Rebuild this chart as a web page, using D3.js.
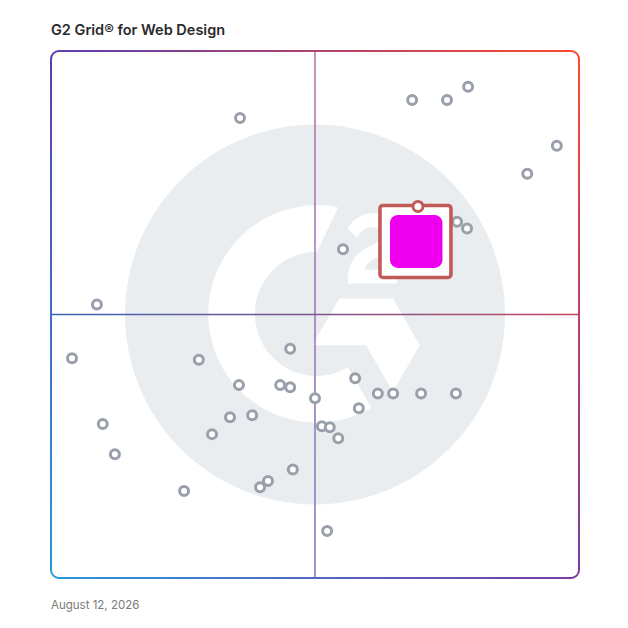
<!DOCTYPE html>
<html>
<head>
<meta charset="utf-8">
<script src="https://cdn.jsdelivr.net/npm/d3@7"></script>
<style>
  body { margin: 0; background: #fff; }
  svg { display: block; }
</style>
</head>
<body>
<div class="canvas"></div>
<script>
// product positions on the grid, 0-100 on both axes (x = market presence, y = satisfaction)
const productX = [68.4, 75.0, 79.0, 95.8, 90.2, 76.9, 78.8, 55.3, 35.8, 8.7,
  3.98, 28.0, 45.3, 35.6, 43.4, 45.3, 9.8, 33.9, 38.1, 30.5,
  12.1, 25.2, 39.6, 41.1, 45.8, 50.0, 57.6, 61.9, 64.8, 70.1,
  76.7, 58.3, 51.3, 52.8, 54.4, 52.3];
const productY = [90.7, 90.7, 93.2, 82.0, 76.7, 67.6, 66.3, 62.4, 87.3, 51.9,
  41.7, 41.4, 43.5, 36.6, 36.6, 36.2, 29.2, 30.5, 30.9, 27.3,
  23.5, 16.5, 17.2, 18.4, 20.6, 34.1, 37.9, 35.0, 35.0, 35.0,
  35.0, 32.2, 28.8, 28.6, 26.5, 8.9];

// highlighted product
const focusX = [69.5];
const focusY = [70.5];

const title = 'G2 Grid® for Web Design';
const dateLabel = 'August 12, 2026';

const dims = { width: 628, height: 628 };
const box = { x0: 51, y0: 51, x1: 579, y1: 578, r: 8 };

const svg = d3.select('.canvas')
  .append('svg')
  .attr('width', dims.width)
  .attr('height', dims.height);

const x = d3.scaleLinear().domain([0, 100]).range([box.x0, box.x1]);
const y = d3.scaleLinear().domain([0, 100]).range([box.y1, box.y0]);

const defs = svg.append('defs');
const grad = (id, x1, y1, x2, y2, c1, c2) => {
  const g = defs.append('linearGradient')
    .attr('id', id)
    .attr('gradientUnits', 'userSpaceOnUse')
    .attr('x1', x1).attr('y1', y1).attr('x2', x2).attr('y2', y2);
  g.append('stop').attr('offset', 0).attr('stop-color', c1);
  g.append('stop').attr('offset', 1).attr('stop-color', c2);
};

const cTL = '#5b3fb0', cTR = '#ff492c', cBL = '#2a98d8', cBR = '#7a3aa2';
grad('gTop', box.x0, 0, box.x1, 0, cTL, cTR);
grad('gRight', 0, box.y0, 0, box.y1, cTR, cBR);
grad('gBottom', box.x0, 0, box.x1, 0, cBL, cBR);
grad('gLeft', 0, box.y0, 0, box.y1, cTL, cBL);
grad('gMidV', 0, box.y0, 0, box.y1, '#b87aa6', '#857ac6');
grad('gMidH', box.x0, 0, box.x1, 0, '#3a62b8', '#c2465e');

// title
svg.append('text')
  .attr('x', 51)
  .attr('y', 35)
  .attr('font-family', 'Inter, "Open Sans", sans-serif')
  .attr('font-size', 14.5)
  .attr('font-weight', 600)
  .attr('fill', '#2a2a2a')
  .text(title);

// G2 watermark
const cx = x(50), cy = y(50);
svg.append('circle')
  .attr('cx', cx).attr('cy', cy).attr('r', 190)
  .attr('fill', '#eaedf0');

const logo = svg.append('g')
  .attr('transform', `translate(${cx}, ${cy - 1}) scale(0.38) translate(-500.8, -500)`)
  .attr('fill', '#fff');
logo.append('path')
  .attr('d', 'M717.3 384.6H632c2.3-13.4 10.6-20.9 27.4-29.4l15.7-8c28.1-14.4 43.1-30.7 43.1-57.3 0-16.7-6.5-29.9-19.4-39.4s-28.1-14.1-45.9-14.1c-14.1-.2-27.9 3.8-39.7 11.3-11.9 7.3-20.7 16.8-26.2 28.7l24.7 24.7c9.6-19.3 23.4-28.8 41.7-28.8 15.5 0 25 8 25 19.1 0 9.3-4.6 17-22.4 26l-10.1 4.9c-21.9 11.1-37.1 23.8-45.9 38.2s-13.1 32.5-13.1 54.4v5.9h129.2v-36.2z');
logo.append('path')
  .attr('d', 'M705.9 460.8H564.5l-70.7 122.5h141.4L705.9 706l70.7-122.6-70.7-122.6z');
logo.append('path')
  .attr('d', 'M505.8 664.3c-90 0-163.3-73.3-163.3-163.3s73.3-163.3 163.3-163.3L561.7 220.8c-18.4-3.7-37.1-5.5-55.9-5.5-157.8 0-285.7 127.9-285.7 285.7s127.9 285.7 285.7 285.7c50.3.1 99.8-13.2 143.3-38.5l-61.8-107c-24.8 14.8-53.1 22.6-81.5 23.1z');

// quadrant lines
svg.append('line')
  .attr('x1', x(50)).attr('x2', x(50))
  .attr('y1', box.y0).attr('y2', box.y1)
  .attr('stroke', 'url(#gMidV)')
  .attr('stroke-width', 1.6);
svg.append('line')
  .attr('x1', box.x0).attr('x2', box.x1)
  .attr('y1', y(50)).attr('y2', y(50))
  .attr('stroke', 'url(#gMidH)')
  .attr('stroke-width', 1.6);

// grid frame, one gradient per side
const { x0, y0, x1, y1, r } = box;
const sides = [
  { d: `M${x0},${y0 + r} A${r},${r} 0 0 1 ${x0 + r},${y0} H${x1 - r} A${r},${r} 0 0 1 ${x1},${y0 + r}`, s: 'gTop' },
  { d: `M${x1},${y0 + r} V${y1 - r} A${r},${r} 0 0 1 ${x1 - r},${y1}`, s: 'gRight' },
  { d: `M${x1 - r},${y1} H${x0 + r} A${r},${r} 0 0 1 ${x0},${y1 - r}`, s: 'gBottom' },
  { d: `M${x0},${y1 - r} V${y0 + r}`, s: 'gLeft' }
];
svg.selectAll('.side').data(sides).enter().append('path')
  .attr('class', 'side')
  .attr('d', d => d.d)
  .attr('fill', 'none')
  .attr('stroke', d => `url(#${d.s})`)
  .attr('stroke-width', 2);

// other products
const pts = productX.map((v, i) => ({ x: v, y: productY[i] }));
svg.selectAll('.node').data(pts).enter().append('circle')
  .attr('class', 'node')
  .attr('cx', d => x(d.x))
  .attr('cy', d => y(d.y))
  .attr('r', 4.5)
  .attr('fill', '#fff')
  .attr('stroke', '#9aa0ab')
  .attr('stroke-width', 3);

// highlighted product: frame + logo tile + dot
const focus = focusX.map((v, i) => ({ x: v, y: focusY[i] }));
const fg = svg.selectAll('.focus').data(focus).enter().append('g')
  .attr('class', 'focus')
  .attr('transform', d => `translate(${x(d.x)}, ${y(d.y)})`);

fg.append('rect')
  .attr('x', -38).attr('y', -1)
  .attr('width', 71).attr('height', 72)
  .attr('rx', 3)
  .attr('fill', '#fff')
  .attr('stroke', '#c25a58')
  .attr('stroke-width', 3.6);
fg.append('rect')
  .attr('x', -28).attr('y', 8.5)
  .attr('width', 52.5).attr('height', 53)
  .attr('rx', 8)
  .attr('fill', '#ee00ee');
fg.append('circle')
  .attr('r', 5)
  .attr('fill', '#fff')
  .attr('stroke', '#c25a58')
  .attr('stroke-width', 3);

// date
svg.append('text')
  .attr('x', 51)
  .attr('y', 609)
  .attr('font-family', 'Inter, "Open Sans", sans-serif')
  .attr('font-size', 11.5)
  .attr('fill', '#7a7a7a')
  .text(dateLabel);
</script>
</body>
</html>
